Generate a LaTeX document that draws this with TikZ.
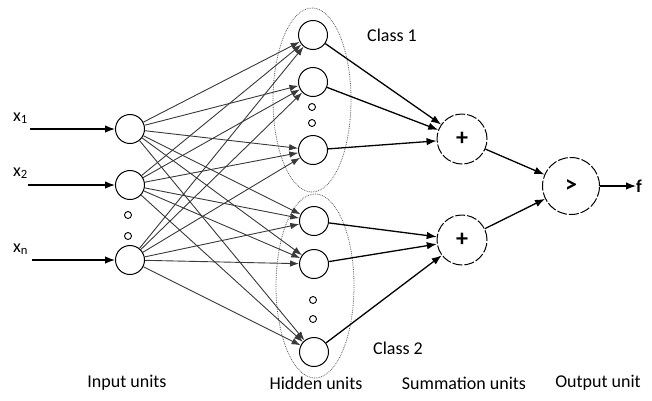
\documentclass[tikz,border=0pt]{standalone}
\usepackage{fontspec}
\setmainfont{Carlito}
\usetikzlibrary{arrows.meta,shapes.geometric}

\begin{document}
\begin{tikzpicture}[x=1pt,y=1pt]
	\tikzstyle{every node}+=[inner sep=0pt]
	\tikzstyle{unit}=[draw, circle, minimum size=29pt, line width=1pt]
	\tikzstyle{dashedunit}=[draw, circle, line width=1pt, dash pattern=on 10pt off 2pt, font=\bfseries\fontsize{24}{26}\selectfont]
	\tikzstyle{group}=[draw, ellipse, gray!70!black, line width=0.8pt, densely dotted, minimum width=78pt, minimum height=184pt]
	\tikzstyle{dot}=[draw, circle, minimum size=7pt, line width=0.9pt]
	\tikzstyle{weak}=[gray!45!black, line width=0.9pt, -{Latex[length=9pt,width=6.5pt]}]
	\tikzstyle{strong}=[black, line width=1.3pt, -{Latex[length=10pt,width=7.5pt]}]
	\tikzstyle{lbl}=[font=\fontsize{18}{21}\selectfont]
	\useasboundingbox (0,0) rectangle (652,-400);
	% input units
	\node [unit] (i1) at (130,-129) {};
	\node [unit] (i2) at (130,-185) {};
	\node [unit] (in) at (130,-260) {};
	\node [dot] (d1) at (128,-215) {};
	\node [dot] (d2) at (128,-236) {};
	\node [lbl, anchor=base west] (x1) at (13,-121) {x\textsubscript{1}};
	\node [lbl, anchor=base west] (x2) at (13,-176) {x\textsubscript{2}};
	\node [lbl, anchor=base west] (xn) at (13,-252) {x\textsubscript{n}};
	\coordinate (x1s) at (30,-129);
	\coordinate (x2s) at (28,-185);
	\coordinate (xns) at (32,-260);
	\draw [strong] (x1s) -- (i1);
	\draw [strong] (x2s) -- (i2);
	\draw [strong] (xns) -- (in);
	% hidden units, class 1
	\node [group] (c1) at (312,-100) {};
	\node [unit] (h1) at (313,-35) {};
	\node [unit] (h2) at (313,-82) {};
	\node [unit] (h3) at (313,-150) {};
	\node [dot] (d3) at (312,-107) {};
	\node [dot] (d4) at (312,-123) {};
	\node [lbl] (cl1) at (392,-35) {Class 1};
	% hidden units, class 2
	\node [group] (c2) at (315,-286) {};
	\node [unit] (h4) at (314,-221) {};
	\node [unit] (h5) at (314,-264) {};
	\node [unit] (h6) at (314,-352) {};
	\node [dot] (d5) at (313,-300) {};
	\node [dot] (d6) at (313,-319) {};
	\node [lbl] (cl2) at (398,-348) {Class 2};
	% summation and output units
	\node [dashedunit, minimum size=50pt] (s1) at (462,-139) {+};
	\node [dashedunit, minimum size=50pt] (s2) at (462,-240) {+};
	\node [dashedunit, minimum size=57pt] (o) at (571,-186) {>};
	\node [font=\bfseries\fontsize{18}{21}\selectfont, anchor=west] (f) at (636,-186) {f};
	% connections
	\foreach \i in {i1,i2,in}
		\foreach \h in {h1,h2,h3,h4,h5,h6}
			\draw [weak] (\i) -- (\h);
	\foreach \h in {h1,h2,h3}
		\draw [strong] (\h) -- (s1);
	\foreach \h in {h4,h5,h6}
		\draw [strong] (\h) -- (s2);
	\draw [strong] (s1) -- (o);
	\draw [strong] (s2) -- (o);
	\draw [strong] (o) -- (f);
	% captions
	\node [lbl] (l1) at (127,-383) {Input units};
	\node [lbl] (l2) at (316,-383) {Hidden units};
	\node [lbl] (l3) at (464,-383) {Summation units};
	\node [lbl] (l4) at (598,-383) {Output unit};
\end{tikzpicture}
\end{document}
